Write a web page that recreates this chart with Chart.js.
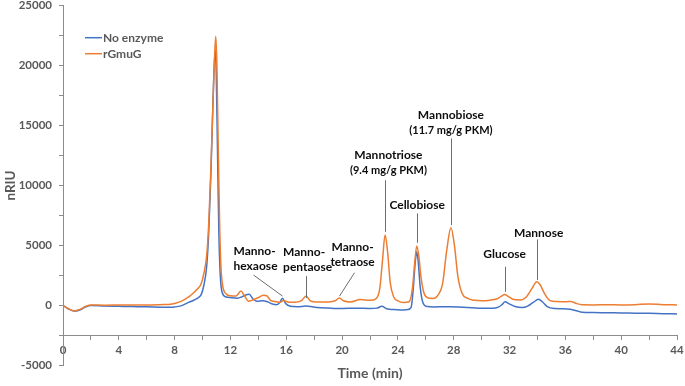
<!DOCTYPE html>
<html>
<head>
<meta charset="utf-8">
<script src="https://cdn.jsdelivr.net/npm/chart.js@4.4.0/dist/chart.umd.min.js"></script>
<style>
html,body{margin:0;padding:0;background:#ffffff;}
#wrap{width:685px;height:386px;position:relative;}
</style>
</head>
<body>
<div id="wrap"><canvas id="c" width="685" height="386"></canvas></div>
<script>
// ---------- data ----------
const seriesNames = ['No enzyme', 'rGmuG'];

const timesNoEnzyme = [
  0, 0.4, 0.8, 1.2, 1.6, 2.0, 3, 4, 5, 6,
  7, 7.6, 8.0, 8.5, 9.0, 9.4, 9.7, 9.9, 10.1, 10.3,
  10.45, 10.6, 10.75, 10.9, 10.98, 11.07, 11.17, 11.27, 11.4, 11.7,
  12.0, 12.5, 12.8, 13.05, 13.35, 13.6, 13.9, 14.3, 14.65, 15.0,
  15.3, 15.55, 15.72, 15.95, 16.3, 16.8, 17.4, 18.2, 19.0, 20.0,
  21.0, 22.0, 22.5, 22.85, 23.2, 23.7, 24.2, 24.7, 24.95, 25.1,
  25.25, 25.35, 25.45, 25.6, 25.8, 26.1, 26.6, 27.2, 27.8, 28.4,
  29.0, 29.6, 30.2, 30.8, 31.2, 31.45, 31.68, 31.95, 32.4, 32.9,
  33.3, 33.7, 34.07, 34.35, 34.7, 35.2, 35.8, 36.35, 36.8, 37.2,
  38, 39, 40, 41, 42, 43, 44
];
const valuesNoEnzyme = [
  0, -300, -480, -380, -150, -20, -60, -80, -100, -120,
  -150, -160, -130, -20, 250, 450, 650, 900, 1700, 3300,
  6300, 11000, 17000, 21300, 19500, 13000, 6000, 2500, 1100, 700,
  650, 600, 700, 850, 920, 550, 350, 380, 300, 120,
  60, 250, 600, 150, -80, -120, -60, -170, -220, -260,
  -240, -260, -230, -80, -280, -350, -380, -350, -150, 1400,
  3700, 4470, 3700, 1500, 200, -100, -130, -120, -110, -130,
  -180, -220, -250, -250, -150, 50, 300, 150, -100, -180,
  -60, 250, 500, 300, -100, -260, -280, -330, -450, -580,
  -600, -620, -630, -650, -660, -690, -710
];

const timesRGmuG = [
  0, 0.4, 0.8, 1.2, 1.6, 2.0, 3, 4, 5, 6,
  7, 7.6, 8.0, 8.5, 9.0, 9.4, 9.7, 9.9, 10.1, 10.3,
  10.45, 10.6, 10.75, 10.87, 10.95, 11.03, 11.12, 11.22, 11.32, 11.45,
  11.7, 12.0, 12.4, 12.75, 13.0, 13.3, 13.6, 14.0, 14.35, 14.6,
  14.9, 15.3, 15.55, 15.8, 16.1, 16.6, 17.1, 17.42, 17.7, 18.2,
  19.0, 19.5, 19.8, 20.1, 20.6, 21.3, 22.0, 22.4, 22.7, 22.9,
  23.08, 23.25, 23.45, 23.7, 24.0, 24.4, 24.8, 25.05, 25.2, 25.35,
  25.5, 25.65, 25.85, 26.1, 26.5, 26.9, 27.2, 27.5, 27.8, 28.05,
  28.3, 28.6, 29.0, 29.5, 30.0, 30.6, 31.1, 31.4, 31.65, 31.9,
  32.3, 32.8, 33.2, 33.6, 33.95, 34.2, 34.5, 34.9, 35.4, 36.0,
  36.4, 36.8, 37.2, 38, 39, 40, 41, 42, 43, 44
];
const valuesRGmuG = [
  0, -280, -460, -350, -100, 40, 20, 30, 40, 40,
  60, 80, 150, 350, 700, 1100, 1450, 1800, 2700, 4200,
  7000, 11500, 17000, 21000, 22460, 20000, 13500, 7000, 3200, 1600,
  950, 800, 780, 1200, 800, 350, 450, 650, 850, 800,
  400, 300, 250, 400, 280, 260, 400, 780, 400, 280,
  290, 380, 620, 380, 280, 480, 430, 520, 1400, 3800,
  5860, 4600, 1900, 700, 380, 240, 300, 1500, 3500, 4950,
  4100, 2400, 1100, 650, 580, 900, 1800, 4600, 6470, 5000,
  2400, 1000, 580, 420, 380, 430, 550, 750, 900, 750,
  480, 450, 700, 1400, 1970, 1700, 1000, 400, 320, 300,
  330, 150, 50, 40, 50, 40, 60, 110, 60, 40
];

const xTickLabels = [0, 4, 8, 12, 16, 20, 24, 28, 32, 36, 40, 44];
const yTickLabels = [-5000, 0, 5000, 10000, 15000, 20000, 25000];

// peak annotations: text lines, text anchor (time, nRIU), leader line (t1, v1, t2, v2)
const peakLabelText = [
  ['Manno-', 'hexaose'],
  ['Manno-', 'pentaose'],
  ['Manno-', 'tetraose'],
  ['Mannotriose', '(9.4 mg/g PKM)'],
  ['Cellobiose'],
  ['Mannobiose', '(11.7 mg/g PKM)'],
  ['Glucose'],
  ['Mannose']
];
const peakLabelAnchor = [
  [12.22, 4550], [15.77, 4420], [20.75, 4890], [23.32, 12540],
  [25.38, 8360], [27.8, 15860], [31.65, 4250], [34.09, 6060]
];
const peakLabelAlign = ['left', 'left', 'center', 'center', 'center', 'center', 'center', 'center'];
const peakLeader = [
  [13.64, 2530, 15.68, 775],
  [17.42, 2440, 17.42, 610],
  [20.86, 2720, 19.81, 775],
  [23.08, 10440, 23.08, 6140],
  [25.38, 7670, 25.38, 5220],
  [27.8, 13930, 27.8, 6700],
  [31.65, 3220, 31.65, 1130],
  [33.96, 5500, 33.96, 2110]
];

// ---------- styling ----------
const FONT = 'Lato, "Liberation Sans", sans-serif';
const AXIS_GREY = '#8c8c8c';
const TEXT_GREY = '#595959';
const COLORS = ['#4472C4', '#ED7D31'];

const toPoints = (ts, vs) => ts.map((t, i) => ({ x: t, y: vs[i] }));

const peakLabelPlugin = {
  id: 'peakLabels',
  afterDatasetsDraw(chart) {
    const { ctx, scales: { x, y } } = chart;
    ctx.save();
    peakLabelText.forEach((lines, i) => {
      const [t1, v1, t2, v2] = peakLeader[i];
      ctx.strokeStyle = '#6e6e6e';
      ctx.lineWidth = 1;
      ctx.beginPath();
      ctx.moveTo(Math.round(x.getPixelForValue(t1)) + 0.5, y.getPixelForValue(v1));
      ctx.lineTo(Math.round(x.getPixelForValue(t2)) + 0.5, y.getPixelForValue(v2));
      ctx.stroke();
      const [t, v] = peakLabelAnchor[i];
      const px = x.getPixelForValue(t);
      const py = y.getPixelForValue(v);
      ctx.fillStyle = '#0d0d0d';
      ctx.textAlign = peakLabelAlign[i];
      ctx.textBaseline = 'middle';
      lines.forEach((s, j) => {
        const small = s.charAt(0) === '(';
        ctx.font = 'bold ' + (small ? 11 : 12) + 'px ' + FONT;
        ctx.fillText(s, px, py + j * 15);
      });
    });
    ctx.restore();
  }
};

const legendPlugin = {
  id: 'insideLegend',
  afterDraw(chart) {
    const { ctx, chartArea } = chart;
    ctx.save();
    chart.data.datasets.forEach((ds, i) => {
      const yy = chartArea.top + 32 + i * 16;
      const x0 = chartArea.left + 22;
      ctx.strokeStyle = ds.borderColor;
      ctx.lineWidth = 1.5;
      ctx.beginPath();
      ctx.moveTo(x0, yy);
      ctx.lineTo(x0 + 17, yy);
      ctx.stroke();
      ctx.fillStyle = TEXT_GREY;
      ctx.font = 'bold 12px ' + FONT;
      ctx.textAlign = 'left';
      ctx.textBaseline = 'middle';
      ctx.fillText(ds.label, x0 + 18, yy);
    });
    ctx.restore();
  }
};

new Chart(document.getElementById('c'), {
  type: 'line',
  data: {
    datasets: [
      {
        label: seriesNames[0],
        data: toPoints(timesNoEnzyme, valuesNoEnzyme),
        borderColor: COLORS[0],
        borderWidth: 1.5,
        pointRadius: 0,
        fill: false,
        cubicInterpolationMode: 'monotone',
        order: 1
      },
      {
        label: seriesNames[1],
        data: toPoints(timesRGmuG, valuesRGmuG),
        borderColor: COLORS[1],
        borderWidth: 1.5,
        pointRadius: 0,
        fill: false,
        cubicInterpolationMode: 'monotone',
        order: 0
      }
    ]
  },
  options: {
    responsive: false,
    animation: false,
    devicePixelRatio: 1,
    layout: { padding: { left: 0, right: 8, top: 0, bottom: 20.7 } },
    plugins: { legend: { display: false }, tooltip: { enabled: false } },
    scales: {
      x: {
        type: 'linear',
        min: 0,
        max: 44,
        position: { y: -2500 },
        border: { display: true, color: AXIS_GREY, width: 1 },
        grid: { display: true, drawOnChartArea: false, drawTicks: true, tickLength: 4, color: AXIS_GREY },
        ticks: {
          stepSize: 2,
          maxTicksLimit: 100,
          autoSkip: false,
          maxRotation: 0,
          padding: 4,
          color: TEXT_GREY,
          font: { family: FONT, size: 11.5, weight: 'bold' },
          callback: (v) => (xTickLabels.includes(v) ? String(v) : '')
        },
        title: {
          display: true,
          text: 'Time (min)',
          color: TEXT_GREY,
          font: { family: FONT, size: 14, weight: 'bold' },
          padding: { top: 4, bottom: 0 }
        },
        afterFit: (scale) => { scale.paddingLeft = 0; scale.paddingRight = 0; }
      },
      y: {
        type: 'linear',
        min: -5000,
        max: 25000,
        border: { display: true, color: AXIS_GREY, width: 1 },
        grid: { display: true, drawOnChartArea: false, drawTicks: true, tickLength: 4, color: AXIS_GREY },
        ticks: {
          stepSize: 2500,
          maxTicksLimit: 100,
          autoSkip: false,
          padding: 7,
          color: TEXT_GREY,
          font: { family: FONT, size: 11.5, weight: 'bold' },
          callback: (v) => (yTickLabels.includes(v) ? String(v) : '')
        },
        title: {
          display: true,
          text: 'nRIU',
          color: TEXT_GREY,
          font: { family: FONT, size: 13.5, weight: 'bold' },
          padding: { top: 3, bottom: 0 }
        },
        afterFit: (scale) => { scale.width = 63; scale.paddingTop = 5.7; scale.paddingBottom = 0; }
      }
    }
  },
  plugins: [peakLabelPlugin, legendPlugin]
});
</script>
</body>
</html>
